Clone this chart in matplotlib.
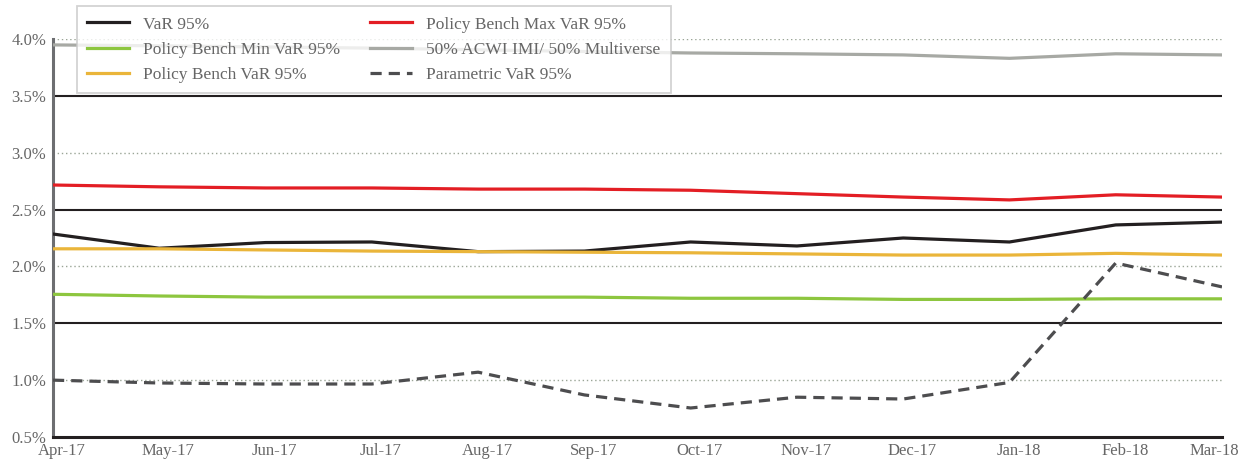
import matplotlib.pyplot as plt
from matplotlib.transforms import blended_transform_factory

months = ["Apr-17", "May-17", "Jun-17", "Jul-17", "Aug-17", "Sep-17",
          "Oct-17", "Nov-17", "Dec-17", "Jan-18", "Feb-18", "Mar-18"]

var95 = [2.285, 2.16, 2.21, 2.215, 2.13, 2.135, 2.215, 2.18, 2.25, 2.215, 2.365, 2.39]
bench_max = [2.716, 2.70, 2.69, 2.69, 2.68, 2.68, 2.67, 2.64, 2.61, 2.585, 2.63, 2.61]
bench_min = [1.755, 1.74, 1.73, 1.73, 1.73, 1.73, 1.72, 1.72, 1.71, 1.71, 1.715, 1.715]
acwi = [3.948, 3.94, 3.93, 3.92, 3.905, 3.89, 3.877, 3.87, 3.86, 3.83, 3.87, 3.86]
bench_var = [2.155, 2.155, 2.145, 2.135, 2.13, 2.125, 2.12, 2.11, 2.10, 2.10, 2.115, 2.10]
param_var = [1.0, 0.975, 0.966, 0.966, 1.07, 0.87, 0.755, 0.85, 0.834, 0.98, 2.03, 1.82]

plt.rcParams['font.family'] = ['Liberation Serif', 'DejaVu Serif']
text_col = "#666666"

fig = plt.figure(figsize=(12.39, 4.63), dpi=100)
ax = fig.add_axes([53 / 1239, 1 - 437 / 463, (1222 - 53) / 1239, (437 - 39) / 463])

x = list(range(len(months)))

# grid: solid at odd halves, dotted at whole numbers
for y in [3.5, 2.5, 1.5]:
    ax.axhline(y, color="#231f20", lw=1.5, zorder=1)
for y in [4.0, 3.0, 2.0, 1.0]:
    ax.axhline(y, color="#9aa596", lw=1.0, ls=(0, (1, 2)), zorder=1)

lw = 2.3
l1, = ax.plot(x, var95, color="#231f20", lw=lw, label="VaR 95%", zorder=3)
l2, = ax.plot(x, bench_min, color="#8dc63f", lw=lw, label="Policy Bench Min VaR 95%", zorder=3)
l3, = ax.plot(x, bench_var, color="#eab53a", lw=lw, label="Policy Bench VaR 95%", zorder=3)
l4, = ax.plot(x, bench_max, color="#e31e24", lw=lw, label="Policy Bench Max VaR 95%", zorder=3)
l5, = ax.plot(x, acwi, color="#a7a9a4", lw=lw, label="50% ACWI IMI/ 50% Multiverse", zorder=3)
l6, = ax.plot(x, param_var, color="#4d4d4f", lw=lw, ls=(0, (3.5, 2.2)),
              label="Parametric VaR 95%", zorder=3)

ax.set_xlim(0, len(months) - 1)
ax.set_ylim(0.5, 4.0)

# month labels sit a little right of their points; last one pulled in to fit
ax.set_xticks(x)
ax.set_xticklabels([])
trans = blended_transform_factory(ax.transData, ax.transAxes)
for i, m in enumerate(months):
    dx = 6.5 if i < len(months) - 1 else -5.5
    ax.annotate(m, xy=(i, 0), xycoords=trans, xytext=(dx, -4.5),
                textcoords="offset points", ha="center", va="top",
                fontsize=12, color=text_col, annotation_clip=False)

ax.set_yticks([0.5, 1.0, 1.5, 2.0, 2.5, 3.0, 3.5, 4.0])
ax.set_yticklabels(["0.5%", "1.0%", "1.5%", "2.0%", "2.5%", "3.0%", "3.5%", "4.0%"],
                   fontsize=12, color=text_col)
ax.tick_params(length=0, pad=5)

for s in ["top", "right"]:
    ax.spines[s].set_visible(False)
ax.spines["left"].set_color("#6d6e71")
ax.spines["left"].set_linewidth(2.2)
ax.spines["bottom"].set_color("#231f20")
ax.spines["bottom"].set_linewidth(2.2)

leg = fig.legend(handles=[l1, l2, l3, l4, l5, l6], ncol=2, loc="upper left",
                 bbox_to_anchor=(77 / 1239, 1 - 6 / 463), fontsize=12.5,
                 frameon=True, fancybox=False, handlelength=2.4, handletextpad=0.8,
                 columnspacing=1.75, labelspacing=0.52, borderpad=0.6,
                 borderaxespad=0, labelcolor=text_col)
leg.get_frame().set_edgecolor("#c8c8c8")
leg.get_frame().set_linewidth(1.3)
leg.set_zorder(5)

fig.savefig("out.png", dpi=100)
